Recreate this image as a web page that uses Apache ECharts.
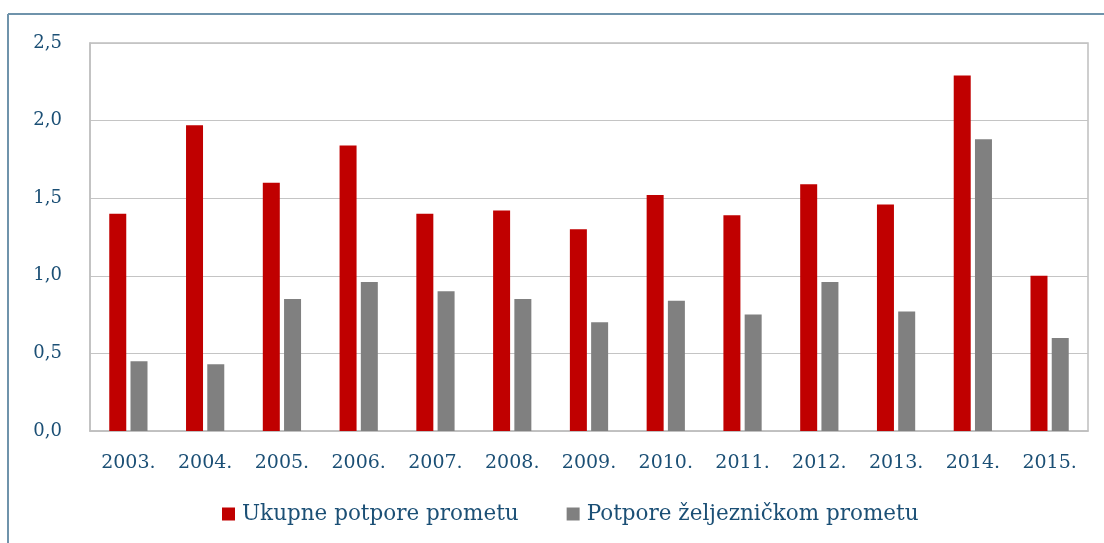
<!DOCTYPE html>
<html>
<head>
<meta charset="utf-8">
<script src="https://cdn.jsdelivr.net/npm/echarts@6/dist/echarts.min.js"></script>
<style>html,body{margin:0;padding:0;background:#fff;}#c{width:1104px;height:543px;}</style>
</head>
<body>
<div id="c"></div>
<script>
const categories = ['2003.','2004.','2005.','2006.','2007.','2008.','2009.','2010.','2011.','2012.','2013.','2014.','2015.'];
const ukupne = [1.40,1.97,1.60,1.84,1.40,1.42,1.30,1.52,1.39,1.59,1.46,2.29,1.00];
const zeljeznicke = [0.45,0.43,0.85,0.96,0.90,0.85,0.70,0.84,0.75,0.96,0.77,1.88,0.60];
const seriesNames = ['Ukupne potpore prometu','Potpore željezničkom prometu'];

const FONT = 'DejaVu Serif';
const TXT = '#1b4f75';
const chart = echarts.init(document.getElementById('c'), null, {renderer:'canvas'});
chart.setOption({
  animation:false,
  backgroundColor:'#fff',
  textStyle:{fontFamily:FONT},
  graphic:[
    {type:'line', shape:{x1:8,y1:14,x2:1104,y2:14}, style:{stroke:'#6f93ab',lineWidth:2}},
    {type:'line', shape:{x1:8,y1:14,x2:8,y2:543}, style:{stroke:'#6f93ab',lineWidth:2}}
  ],
  grid:{left:90,right:16,top:43,bottom:112,show:true,borderColor:'#bfbfbf',borderWidth:1.5,containLabel:false},
  legend:{
    bottom:13,left:217,itemWidth:13,itemHeight:13,itemGap:48,icon:'rect',
    textStyle:{fontFamily:FONT,fontSize:21.5,color:TXT,padding:[0,0,0,2]},
    data:seriesNames
  },
  xAxis:{
    type:'category',data:categories,
    axisLine:{lineStyle:{color:'#bfbfbf',width:1.5}},
    axisTick:{show:false},
    axisLabel:{fontFamily:FONT,fontSize:19,color:TXT,margin:23}
  },
  yAxis:{
    type:'value',min:0,max:2.5,interval:0.5,
    axisLine:{show:true,lineStyle:{color:'#bfbfbf',width:1.5}},
    axisTick:{show:false},
    splitLine:{lineStyle:{color:'#c4c4c4',width:1.2}},
    axisLabel:{fontFamily:FONT,fontSize:18,color:TXT,margin:28,formatter:v=>v.toFixed(1).replace('.',',')}
  },
  series:[
    {name:seriesNames[0],type:'bar',data:ukupne,barWidth:17,barGap:'25%',itemStyle:{color:'#c00000'}},
    {name:seriesNames[1],type:'bar',data:zeljeznicke,barWidth:17,barGap:'25%',itemStyle:{color:'#808080'}}
  ]
});
</script>
</body>
</html>
